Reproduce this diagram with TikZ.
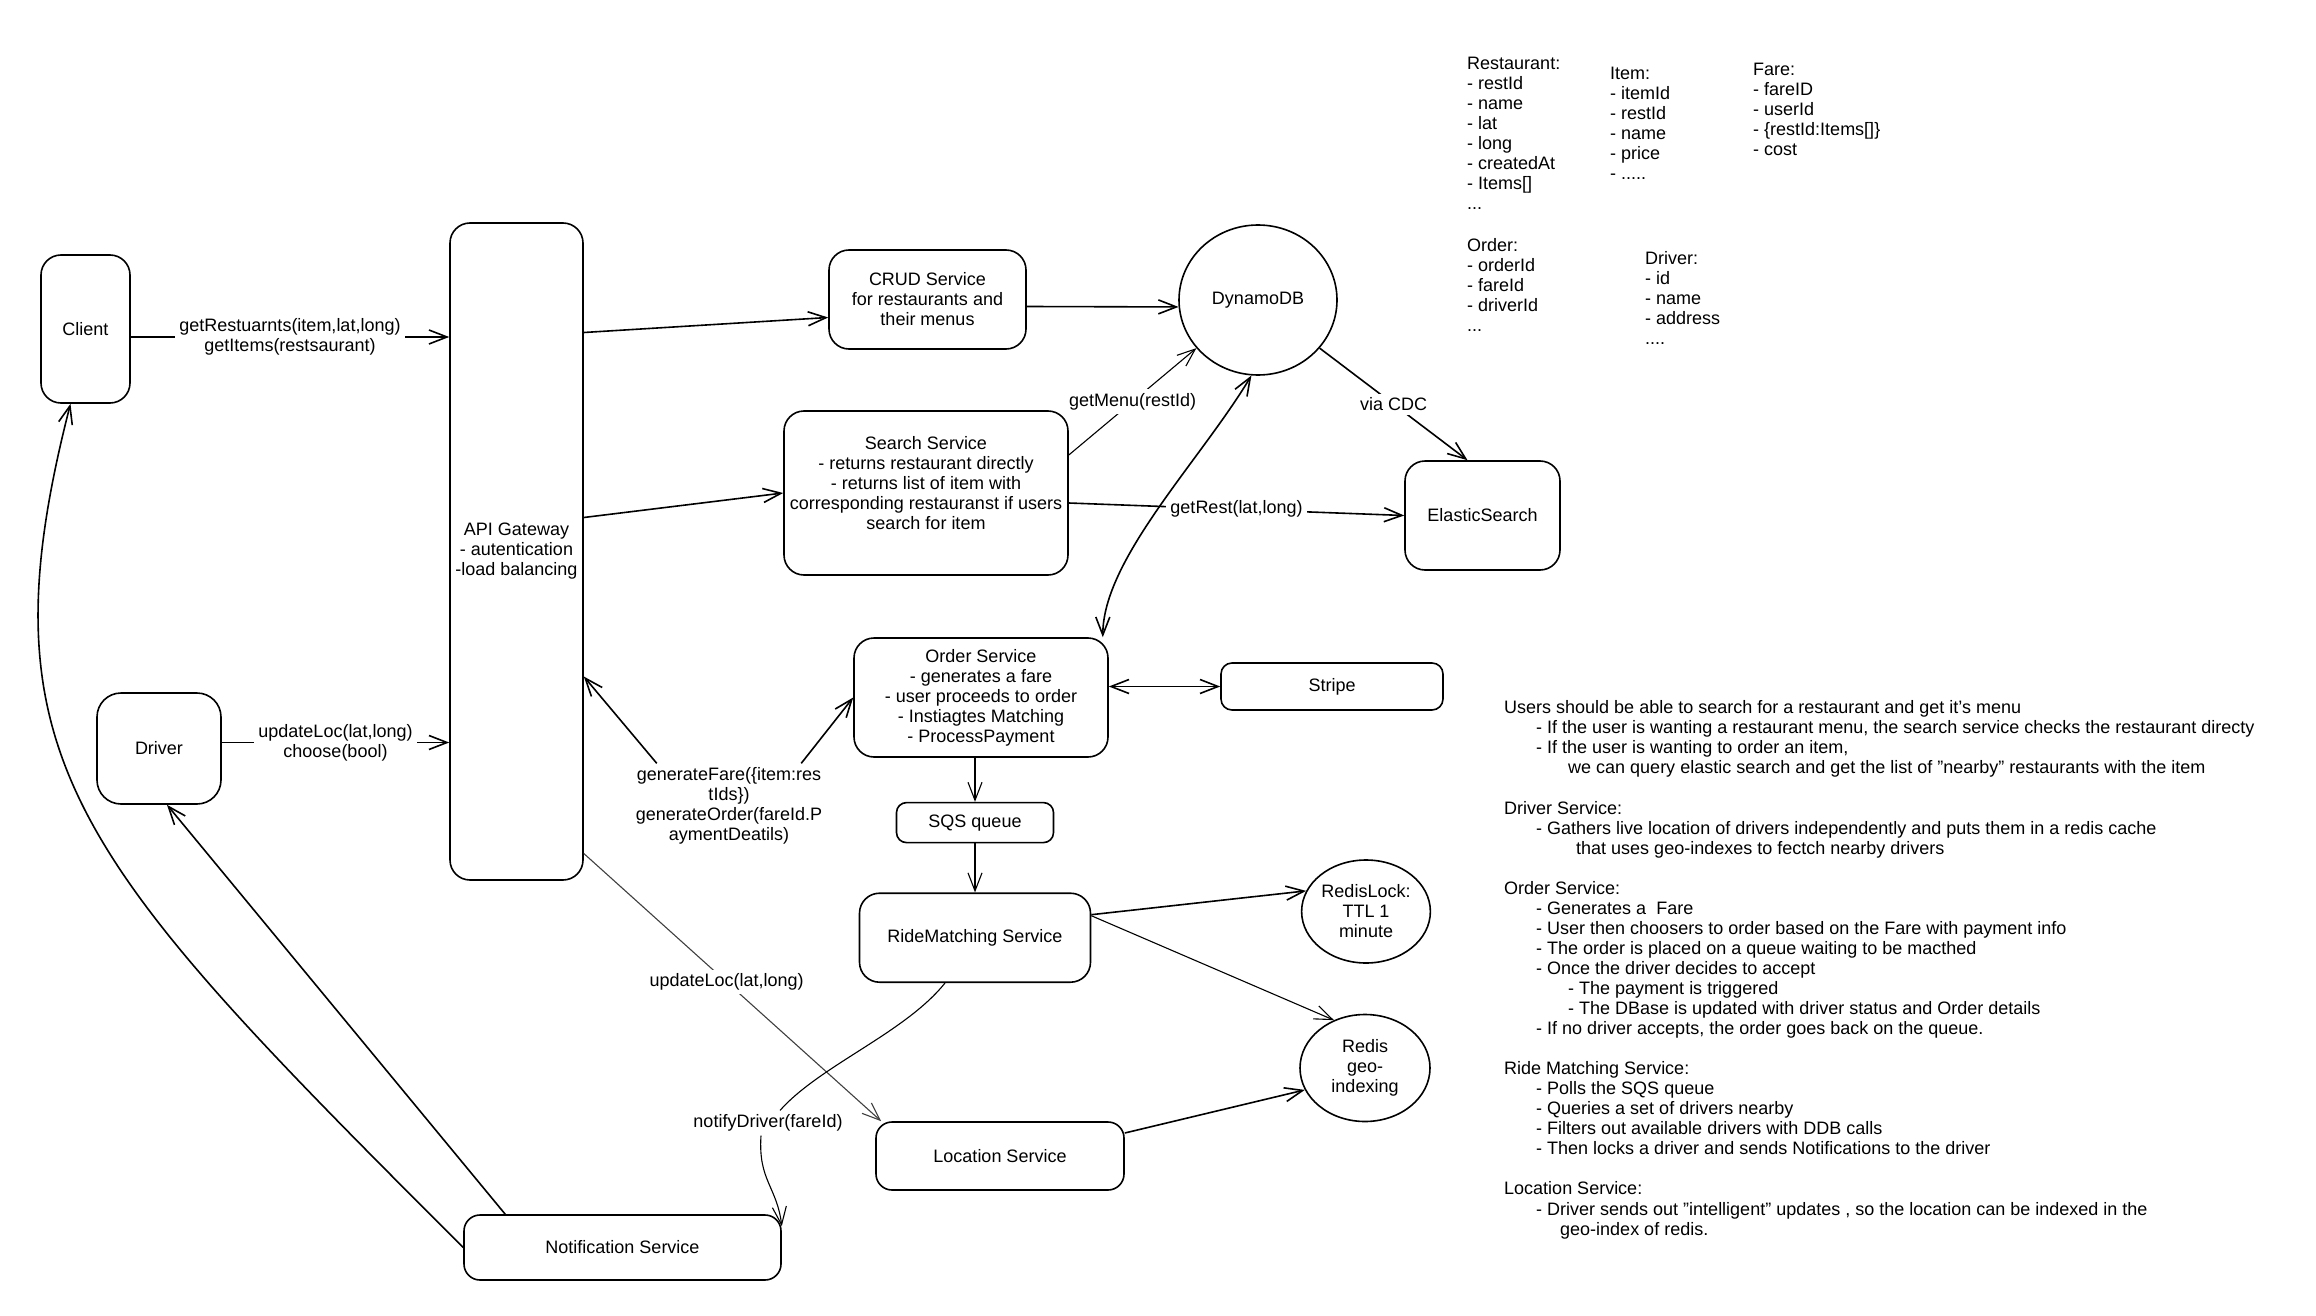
\documentclass[tikz,border=0pt]{standalone}
\usepackage{fontspec}
\setmainfont{Liberation Sans}
\usepackage{tikz}
\usetikzlibrary{arrows.meta,positioning,shapes.geometric}

\begin{document}
\begin{tikzpicture}[
  x=1pt, y=-1pt,
  font=\fontsize{18}{20.05}\selectfont,
  node distance=44pt,
  svc/.style={rectangle, draw, line width=1.6pt, rounded corners=20pt, align=center, inner sep=2pt},
  db/.style={ellipse, draw, line width=1.6pt, align=center, inner sep=1pt},
  lbl/.style={fill=white, inner sep=4pt, align=center},
  note/.style={anchor=north west, align=left, inner sep=0pt},
  arr/.style={-{Straight Barb[length=18pt,width=14pt]}, line width=1.6pt},
  darr/.style={{Straight Barb[length=18pt,width=14pt]}-{Straight Barb[length=18pt,width=14pt]}, line width=1.6pt},
  thinarr/.style={-{Straight Barb[length=18pt,width=14pt]}, line width=1.1pt}
]
  \path[use as bounding box, fill=white] (0,0) rectangle (2316,1316);

  % services
  \node[svc, minimum width=89pt, minimum height=148pt] (client) at (85.5,329) {Client};
  \node[svc, minimum width=133pt, minimum height=657pt] (gw) at (516.5,551.5) {API Gateway\\- autentication\\-load balancing};
  \node[svc, minimum width=124pt, minimum height=111pt, rounded corners=24pt] (driver) at (159,748.5) {Driver};
  \node[svc, minimum width=197pt, minimum height=99pt] (crud) at (927.5,299.5) {CRUD Service\\for restaurants and\\their menus};
  \node[db, minimum width=158pt, minimum height=150pt] (ddb) at (1258,300) {DynamoDB};
  \node[svc, minimum width=284pt, minimum height=164pt, text depth=20pt] (search) at (926,493) {Search Service\\- returns restaurant directly\\- returns list of item with\\corresponding restauranst if users\\search for item};
  \node[svc, minimum width=155pt, minimum height=109pt] (es) at (1482.5,515.5) {ElasticSearch};
  \node[svc, minimum width=254pt, minimum height=119pt] (order) at (981,697.5) {Order Service\\- generates a fare\\- user proceeds to order\\- Instiagtes Matching\\- ProcessPayment};
  \node[svc, minimum width=222pt, minimum height=47pt, rounded corners=11pt] (stripe) at (1332,686.5) {Stripe};
  \node[svc, minimum width=157pt, minimum height=40pt, rounded corners=10pt, below=44pt of order, xshift=-6pt] (sqs) {SQS queue};
  \node[svc, minimum width=231pt, minimum height=89pt, below=49pt of sqs] (match) {RideMatching Service};
  \node[db, minimum width=128pt, minimum height=103pt] (lock) at (1366,911.5) {RedisLock:\\TTL 1\\minute};
  \node[db, minimum width=130pt, minimum height=107pt] (geo) at (1365,1068) {Redis\\geo-\\indexing};
  \node[svc, minimum width=248pt, minimum height=68pt, rounded corners=16pt] (loc) at (1000,1156) {Location Service};
  \node[svc, minimum width=317pt, minimum height=65pt, rounded corners=16pt] (notif) at (622.5,1247.5) {Notification Service};

  % data models
  \node[note] (mrest) at (1467,56.5) {Restaurant:\\- restId\\- name\\- lat\\- long\\- createdAt\\- Items[]\\...};
  \node[note] (mitem) at (1610,66.5) {Item:\\- itemId\\- restId\\- name\\- price\\- .....};
  \node[note] (mfare) at (1753,62.5) {Fare:\\- fareID\\- userId\\- \{restId:Items[]\}\\- cost};
  \node[note] (morder) at (1467,238.5) {Order:\\- orderId\\- fareId\\- driverId\\...};
  \node[note] (mdriver) at (1645,251.5) {Driver:\\- id\\- name\\- address\\....};

  % notes
  \node[note] (notes) at (1504,700.5) {Users should be able to search for a restaurant and get it's menu\\
    \hspace*{32pt}- If the user is wanting a restaurant menu, the search service checks the restaurant directy\\
    \hspace*{32pt}- If the user is wanting to order an item,\\
    \hspace*{64pt}we can query elastic search and get the list of "nearby" restaurants with the item\\[20.05pt]
    Driver Service:\\
    \hspace*{32pt}- Gathers live location of drivers independently and puts them in a redis cache\\
    \hspace*{72pt}that uses geo-indexes to fectch nearby drivers\\[20.05pt]
    Order Service:\\
    \hspace*{32pt}- Generates a~ Fare\\
    \hspace*{32pt}- User then choosers to order based on the Fare with payment info\\
    \hspace*{32pt}- The order is placed on a queue waiting to be macthed\\
    \hspace*{32pt}- Once the driver decides to accept\\
    \hspace*{64pt}- The payment is triggered\\
    \hspace*{64pt}- The DBase is updated with driver status and Order details\\
    \hspace*{32pt}- If no driver accepts, the order goes back on the queue.\\[20.05pt]
    Ride Matching Service:\\
    \hspace*{32pt}- Polls the SQS queue\\
    \hspace*{32pt}- Queries a set of drivers nearby\\
    \hspace*{32pt}- Filters out available drivers with DDB calls\\
    \hspace*{32pt}- Then locks a driver and sends Notifications to the driver\\[20.05pt]
    Location Service:\\
    \hspace*{32pt}- Driver sends out "intelligent" updates , so the location can be indexed in the\\
    \hspace*{56pt}geo-index of redis.};

  % labels that sit between two arrows
  \node[lbl] (lblfare) at (729,806) {generateFare(\{item:res\\tIds\})\\generateOrder(fareId.P\\aymentDeatils)};
  \node[lbl] (lblnotify) at (768,1123) {notifyDriver(fareId)};

  % connectors
  \draw[arr] ([yshift=-8pt]client.east) -- node[lbl]{getRestuarnts(item,lat,long)\\getItems(restsaurant)} ([yshift=-8pt]client.east -| gw.west);
  \draw[arr] ([yshift=6pt]driver.east) -- node[lbl]{updateLoc(lat,long)\\choose(bool)} ([yshift=6pt]driver.east -| gw.west);
  \draw[arr] ([yshift=219pt]gw.east) -- ([yshift=-18pt]crud.west);
  \draw[arr] ([yshift=34pt]gw.east) -- (search.west);
  \draw[arr] ([yshift=-7pt]crud.east) -- (ddb.185);
  \draw[thinarr] ([yshift=38pt]search.east) -- node[lbl]{getMenu(restId)} (ddb.218);
  \draw[arr] ([yshift=-10pt]search.east) -- node[lbl]{getRest(lat,long)} (es.west);
  \draw[arr] (ddb.-38) -- node[lbl]{via CDC} ([xshift=-15pt]es.north);
  \draw[darr] ([xshift=-6pt]order.north east) .. controls +(0,-78) and +(-51,85) .. (ddb.265);
  \draw[darr] (stripe.west -| order.east) -- (stripe.west);
  \draw[arr] ([xshift=25pt]lblfare.north west) -- ([yshift=-125pt]gw.east);
  \draw[arr] ([xshift=-25pt]lblfare.north east) -- (order.west);
  \draw[thinarr] (sqs.north |- order.south) -- (sqs.north);
  \draw[thinarr] (sqs.south) -- (sqs.south |- match.north);
  \draw[arr] ([yshift=23pt]match.east) -- (lock.161);
  \draw[thinarr] ([yshift=22pt]match.east) -- (geo.123);
  \draw[arr] ([yshift=23pt]loc.east) -- (geo.200);
  \draw[thinarr, draw=black!75] ([yshift=-302pt]gw.east) -- node[lbl, pos=0.48, text=black]{updateLoc(lat,long)} ([xshift=6pt]loc.north west);
  \draw[thinarr] ([xshift=-30pt]match.south) .. controls +(-40,50) and +(40,-45) .. ([xshift=12pt]lblnotify.north)
    ([xshift=-7pt]lblnotify.south) .. controls +(-3,45) and +(-5,-40) .. ([yshift=-12pt]notif.north east);
  \draw[arr] ([xshift=42pt]notif.north west) -- ([xshift=8pt]driver.south);
  \draw[arr] (notif.west) .. controls +(-390,-390) and +(-91,355) .. ([xshift=-15pt]client.south);
\end{tikzpicture}
\end{document}
